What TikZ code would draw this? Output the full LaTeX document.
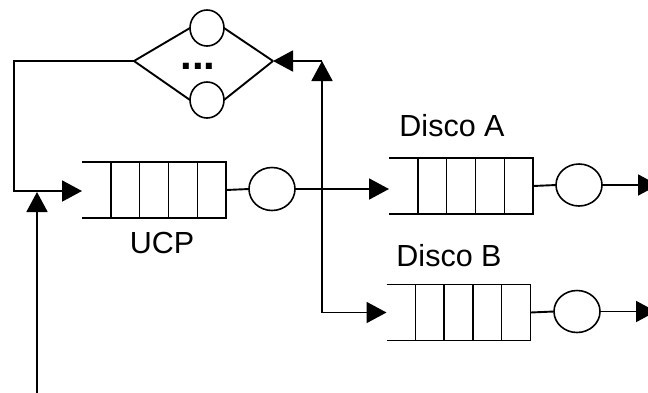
\documentclass[tikz,border=0pt]{standalone}
\usepackage{fontspec}
\setmainfont{Liberation Sans}
\usetikzlibrary{arrows.meta,shapes.geometric,calc}
\tikzset{
  qbox/.style={minimum width=144pt, minimum height=56pt, inner sep=0pt, outer sep=0pt},
  qline/.style={line width=1.4pt},
  srv/.style={ellipse, draw, line width=1.6pt, minimum width=46pt, minimum height=43pt, inner sep=0pt, outer sep=0pt},
  smallsrv/.style={srv, minimum width=34pt, minimum height=36pt},
  conn/.style={line width=1.9pt},
  arr/.style={conn, -{Triangle[length=20pt,width=21pt]}},
  lbl/.style={font=\fontsize{30.5}{36}\selectfont, inner sep=0pt},
}
\newcommand\queuelines[1]{%
  \draw[qline] (#1.north west) -- (#1.north east) -- (#1.south east) -- (#1.south west);
  \foreach \i in {1,2,3,4}
    \draw[qline] ($(#1.north west)!\i/5!(#1.north east)$) -- ($(#1.south west)!\i/5!(#1.south east)$);
}
\begin{document}
\begin{tikzpicture}[x=1pt,y=-1pt]
\useasboundingbox (0,0) rectangle (648,392);
\clip (0,0) rectangle (648,392);
% diamond of parallel servers
\coordinate (L) at (134,61);
\coordinate (R) at (273,61);
\node[smallsrv] (top) at (207,28) {};
\node[smallsrv] (bot) at (207,100) {};
\node[font=\bfseries\fontsize{42}{44}\selectfont, inner sep=0pt, anchor=base] (dots) at (198,69) {...};
\draw[conn] (L) -- (top.west) (top.east) -- (R);
\draw[conn] (L) -- (bot.west) (bot.east) -- (R);
% UCP
\node[qbox] (ucpq) at (154,190) {};
\queuelines{ucpq}
\node[srv] (ucpc) at (272,189) {};
\draw[conn] (ucpq.east) -- (ucpc.west);
\node[lbl] (ucpl) at (162,242.5) {UCP};
% Disco A
\node[qbox] (dAq) at (461,186) {};
\queuelines{dAq}
\node[srv, minimum height=42pt] (dAc) at (579,185) {};
\draw[conn] (dAq.east) -- (dAc.west);
\node[lbl] (dAl) at (452,126) {Disco A};
% Disco B
\node[qbox] (dBq) at (458.5,312.5) {};
\queuelines{dBq}
\node[srv, minimum height=42pt] (dBc) at (577,311.5) {};
\draw[conn] (dBq.east) -- (dBc.west);
\node[lbl] (dBl) at (449,256) {Disco B};
% connectors
\coordinate (sp) at (322,189);
\coordinate (tc) at (322,61);
\coordinate (lc) at (14,191);
\coordinate (bin) at (37,395);
\coordinate (jn) at (37,192);
\coordinate (outA) at (658,185);
\coordinate (outB) at (656,311.5);
\draw[conn] (ucpc.east) -- (sp);
\draw[arr] (sp) -- (sp -| dAq.west);
\draw[arr] (sp) |- (dBq.west);
\draw[arr] (sp) -- (tc);
\draw[arr] (tc) -- (R);
\draw[arr] (L) -| (lc) -- (lc -| ucpq.west);
\draw[arr] (bin) -- (jn);
\draw[arr] (dAc.east) -- (outA);
\draw[arr] (dBc.east) -- (outB);
\end{tikzpicture}
\end{document}
